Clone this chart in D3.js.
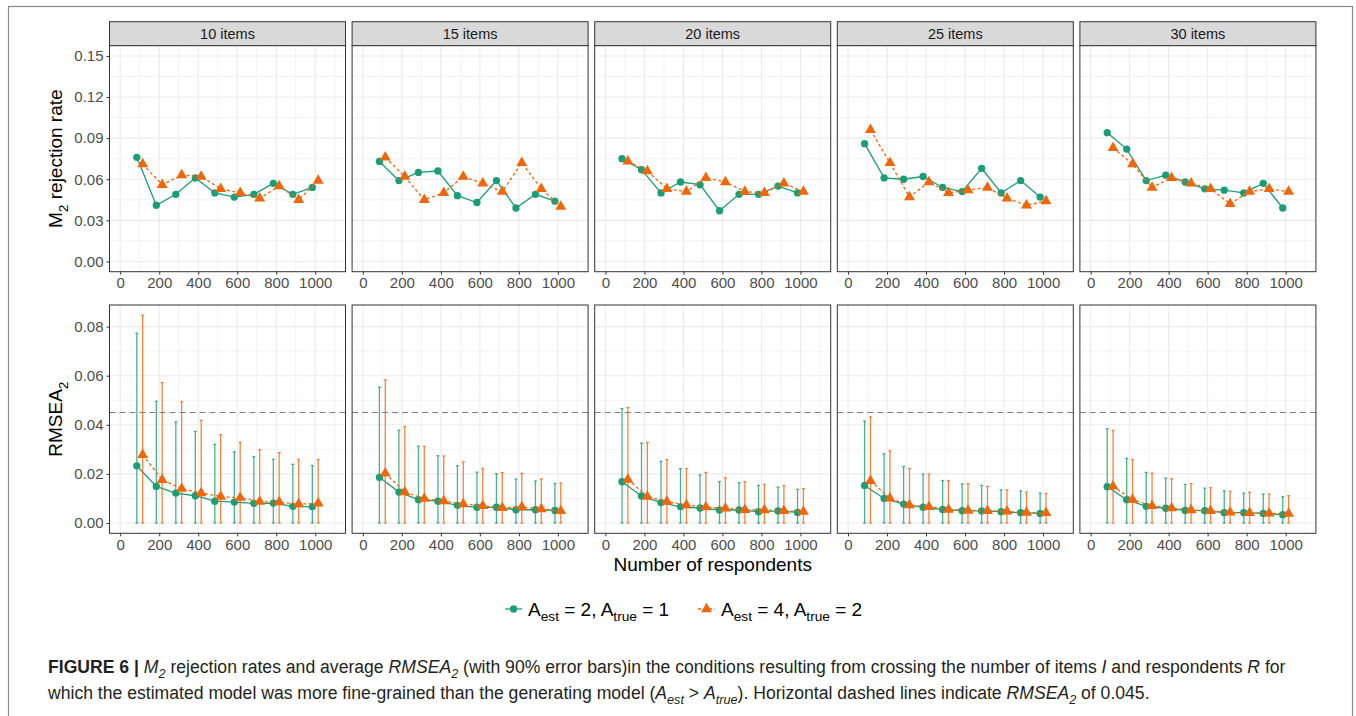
<!DOCTYPE html>
<html>
<head>
<meta charset="utf-8">
<script src="https://cdn.jsdelivr.net/npm/d3@7/dist/d3.min.js"></script>
<style>
body { margin: 0; background: #fff; }
text { font-family: "Liberation Sans", Arial, sans-serif; }
</style>
</head>
<body>
<script>
// ---- data ----
var respondents = [100, 200, 300, 400, 500, 600, 700, 800, 900, 1000];
var itemLabels = ["10 items", "15 items", "20 items", "25 items", "30 items"];

// M2 rejection rate, one row per panel
var rejGreen = [
  [0.076, 0.041, 0.049, 0.061, 0.050, 0.047, 0.049, 0.057, 0.049, 0.054],
  [0.073, 0.059, 0.065, 0.066, 0.048, 0.043, 0.059, 0.039, 0.049, 0.044],
  [0.075, 0.067, 0.050, 0.058, 0.056, 0.037, 0.049, 0.049, 0.055, 0.050],
  [0.086, 0.061, 0.060, 0.062, 0.054, 0.051, 0.068, 0.050, 0.059, 0.047],
  [0.094, 0.082, 0.059, 0.063, 0.058, 0.053, 0.052, 0.050, 0.057, 0.039]
];
var rejOrange = [
  [0.071, 0.056, 0.063, 0.062, 0.053, 0.050, 0.046, 0.055, 0.045, 0.059],
  [0.076, 0.062, 0.045, 0.050, 0.062, 0.057, 0.051, 0.072, 0.053, 0.040],
  [0.073, 0.066, 0.053, 0.051, 0.061, 0.058, 0.051, 0.050, 0.057, 0.051],
  [0.096, 0.072, 0.047, 0.058, 0.050, 0.052, 0.054, 0.046, 0.041, 0.044],
  [0.083, 0.071, 0.054, 0.061, 0.057, 0.053, 0.042, 0.051, 0.053, 0.051]
];

// average RMSEA2 and upper end of 90% interval (lower end is 0)
var rmseaGreen = [
  [0.0233, 0.0149, 0.0122, 0.0111, 0.0089, 0.0085, 0.0080, 0.0081, 0.0068, 0.0066],
  [0.0186, 0.0126, 0.0095, 0.0089, 0.0072, 0.0064, 0.0064, 0.0054, 0.0054, 0.0051],
  [0.0168, 0.0110, 0.0083, 0.0066, 0.0061, 0.0053, 0.0053, 0.0046, 0.0049, 0.0043],
  [0.0153, 0.0100, 0.0077, 0.0064, 0.0055, 0.0050, 0.0049, 0.0046, 0.0042, 0.0039],
  [0.0148, 0.0095, 0.0068, 0.0060, 0.0051, 0.0050, 0.0042, 0.0042, 0.0039, 0.0034]
];
var rmseaGreenHi = [
  [0.0773, 0.0496, 0.0412, 0.0373, 0.0320, 0.0290, 0.0270, 0.0259, 0.0239, 0.0234],
  [0.0553, 0.0378, 0.0313, 0.0274, 0.0233, 0.0207, 0.0201, 0.0179, 0.0171, 0.0161],
  [0.0466, 0.0325, 0.0251, 0.0221, 0.0196, 0.0169, 0.0164, 0.0153, 0.0146, 0.0137],
  [0.0415, 0.0282, 0.0230, 0.0199, 0.0173, 0.0159, 0.0153, 0.0135, 0.0131, 0.0122],
  [0.0384, 0.0263, 0.0206, 0.0183, 0.0157, 0.0142, 0.0131, 0.0122, 0.0118, 0.0107]
];
var rmseaOrange = [
  [0.0278, 0.0176, 0.0140, 0.0122, 0.0108, 0.0103, 0.0087, 0.0085, 0.0077, 0.0080],
  [0.0202, 0.0126, 0.0099, 0.0089, 0.0077, 0.0070, 0.0062, 0.0065, 0.0057, 0.0049],
  [0.0177, 0.0108, 0.0087, 0.0073, 0.0065, 0.0060, 0.0054, 0.0053, 0.0050, 0.0046],
  [0.0172, 0.0100, 0.0073, 0.0066, 0.0055, 0.0051, 0.0050, 0.0047, 0.0042, 0.0041],
  [0.0149, 0.0095, 0.0070, 0.0061, 0.0053, 0.0049, 0.0043, 0.0041, 0.0039, 0.0038]
];
var rmseaOrangeHi = [
  [0.0846, 0.0572, 0.0494, 0.0418, 0.0360, 0.0328, 0.0298, 0.0287, 0.0259, 0.0258],
  [0.0583, 0.0393, 0.0312, 0.0273, 0.0249, 0.0222, 0.0205, 0.0202, 0.0180, 0.0163],
  [0.0470, 0.0328, 0.0258, 0.0222, 0.0206, 0.0184, 0.0168, 0.0157, 0.0152, 0.0140],
  [0.0432, 0.0294, 0.0222, 0.0199, 0.0173, 0.0160, 0.0149, 0.0135, 0.0126, 0.0120],
  [0.0377, 0.0259, 0.0203, 0.0180, 0.0160, 0.0144, 0.0129, 0.0125, 0.0118, 0.0111]
];

var xTicks = [0, 200, 400, 600, 800, 1000];
var xMinor = [100, 300, 500, 700, 900, 1100];
var rejTicks = [0, 0.03, 0.06, 0.09, 0.12, 0.15];
var rejMinor = [0.015, 0.045, 0.075, 0.105, 0.135];
var rmseaTicks = [0, 0.02, 0.04, 0.06, 0.08];
var rmseaMinor = [0.01, 0.03, 0.05, 0.07];
var cutoff = 0.045;

var green = "#1b9e77", orange = "#f2660a";

// ---- layout ----
var W = 1356, H = 716;
var panelX0 = 109.5, panelW = 236, panelStep = 242.6;
var stripTop = 21.7, topY0 = 45.7, topY1 = 271.7;
var botY0 = 305, botY1 = 533.3;
var tickFont = "15px";

var svg = d3.select("body").append("svg")
    .attr("width", W)
    .attr("height", H);

svg.append("rect")
    .attr("x", 8.5).attr("y", 6.5)
    .attr("width", 1344).attr("height", 730)
    .attr("fill", "none")
    .attr("stroke", "#8a8a8a")
    .attr("stroke-width", 1.2);

var x = d3.scaleLinear().domain([-55, 1155]).range([0, panelW]);
var yTop = d3.scaleLinear().domain([-0.0075, 0.1575]).range([topY1 - topY0, 0]);
var yBot = d3.scaleLinear().domain([-0.0042, 0.0888]).range([botY1 - botY0, 0]);

var dodge = 15;

function rich(sel, parts, fs) {
  var shift = 0;
  parts.forEach(function(p) {
    var ts = sel.append("tspan").text(p.t);
    var target = p.sub ? fs * 0.3 : 0;
    if (target !== shift) { ts.attr("dy", target - shift); shift = target; }
    if (p.sub) ts.attr("font-size", fs * 0.72);
    if (p.it) ts.attr("font-style", "italic");
    if (p.b) ts.attr("font-weight", "bold");
  });
}

function drawPanel(g, y, h, yTicks, yMinor, showY) {
  g.append("rect").attr("width", panelW).attr("height", h).attr("fill", "#fff");
  var grid = g.append("g").attr("stroke", "#ebebeb");
  grid.selectAll(".xm").data(xMinor).join("line")
      .attr("x1", d => x(d)).attr("x2", d => x(d))
      .attr("y1", 0).attr("y2", h).attr("stroke-width", 0.6);
  grid.selectAll(".ym").data(yMinor).join("line")
      .attr("y1", d => y(d)).attr("y2", d => y(d))
      .attr("x1", 0).attr("x2", panelW).attr("stroke-width", 0.6);
  grid.selectAll(".xM").data(xTicks).join("line")
      .attr("x1", d => x(d)).attr("x2", d => x(d))
      .attr("y1", 0).attr("y2", h).attr("stroke-width", 1.1);
  grid.selectAll(".yM").data(yTicks).join("line")
      .attr("y1", d => y(d)).attr("y2", d => y(d))
      .attr("x1", 0).attr("x2", panelW).attr("stroke-width", 1.1);

  var xa = g.append("g").attr("transform", "translate(0," + h + ")")
      .call(d3.axisBottom(x).tickValues(xTicks).tickSize(3).tickPadding(3).tickFormat(d3.format("d")));
  xa.select(".domain").remove();
  xa.selectAll("line").attr("stroke", "#333");
  xa.selectAll("text").attr("fill", "#4d4d4d").style("font-size", tickFont)
      .style("font-family", "'Liberation Sans', Arial, sans-serif");

  if (showY) {
    var ya = g.append("g")
        .call(d3.axisLeft(y).tickValues(yTicks).tickSize(3).tickPadding(3).tickFormat(d3.format(".2f")));
    ya.select(".domain").remove();
    ya.selectAll("line").attr("stroke", "#333");
    ya.selectAll("text").attr("fill", "#4d4d4d").style("font-size", tickFont)
        .style("font-family", "'Liberation Sans', Arial, sans-serif");
  }
}

function drawSeries(g, y, vals, color, off, dashed, shape, hi) {
  var pts = respondents.map(function(r, i) { return [x(r + off), y(vals[i]), i]; });
  if (hi) {
    var eb = g.append("g").attr("stroke", color).attr("stroke-opacity", 0.8).attr("stroke-width", 1.3);
    eb.selectAll(".v").data(pts).join("line")
        .attr("x1", d => d[0]).attr("x2", d => d[0])
        .attr("y1", d => y(0)).attr("y2", d => y(hi[d[2]]));
    eb.selectAll(".c1").data(pts).join("line")
        .attr("x1", d => d[0] - 1.5).attr("x2", d => d[0] + 1.5)
        .attr("y1", d => y(hi[d[2]])).attr("y2", d => y(hi[d[2]]));
    eb.selectAll(".c0").data(pts).join("line")
        .attr("x1", d => d[0] - 1.5).attr("x2", d => d[0] + 1.5)
        .attr("y1", d => y(0)).attr("y2", d => y(0));
  }
  g.append("path").datum(pts)
      .attr("d", d3.line().x(d => d[0]).y(d => d[1]))
      .attr("fill", "none").attr("stroke", color).attr("stroke-width", 1.3)
      .attr("stroke-dasharray", dashed ? "3,2.5" : null);
  g.selectAll(null).data(pts).join("path")
      .attr("transform", d => "translate(" + d[0] + "," + d[1] + ")")
      .attr("d", d3.symbol(shape, shape === d3.symbolCircle ? 42 : 52))
      .attr("fill", color);
}

itemLabels.forEach(function(lab, p) {
  var px = panelX0 + p * panelStep;

  // strip
  svg.append("rect").attr("x", px).attr("y", stripTop)
      .attr("width", panelW).attr("height", topY0 - stripTop)
      .attr("fill", "#d9d9d9").attr("stroke", "#333").attr("stroke-width", 1);
  svg.append("text").attr("x", px + panelW / 2).attr("y", (stripTop + topY0) / 2)
      .attr("dy", "0.35em").attr("text-anchor", "middle")
      .attr("fill", "#1a1a1a").style("font-size", "14.5px").text(lab);

  // top: rejection rates
  var gt = svg.append("g").attr("transform", "translate(" + px + "," + topY0 + ")");
  drawPanel(gt, yTop, topY1 - topY0, rejTicks, rejMinor, p === 0);
  drawSeries(gt, yTop, rejGreen[p], green, -dodge, false, d3.symbolCircle, null);
  drawSeries(gt, yTop, rejOrange[p], orange, dodge, true, d3.symbolTriangle, null);
  gt.append("rect").attr("width", panelW).attr("height", topY1 - topY0)
      .attr("fill", "none").attr("stroke", "#333").attr("stroke-width", 1);

  // bottom: RMSEA2
  var gb = svg.append("g").attr("transform", "translate(" + px + "," + botY0 + ")");
  drawPanel(gb, yBot, botY1 - botY0, rmseaTicks, rmseaMinor, p === 0);
  gb.append("line").attr("x1", 0).attr("x2", panelW)
      .attr("y1", yBot(cutoff)).attr("y2", yBot(cutoff))
      .attr("stroke", "#7f7f7f").attr("stroke-width", 1.1).attr("stroke-dasharray", "6,4");
  drawSeries(gb, yBot, rmseaGreen[p], green, -dodge, false, d3.symbolCircle, rmseaGreenHi[p]);
  drawSeries(gb, yBot, rmseaOrange[p], orange, dodge, true, d3.symbolTriangle, rmseaOrangeHi[p]);
  gb.append("rect").attr("width", panelW).attr("height", botY1 - botY0)
      .attr("fill", "none").attr("stroke", "#333").attr("stroke-width", 1);
});

// axis titles
var t1 = svg.append("text").attr("transform", "translate(62," + ((topY0 + topY1) / 2) + ") rotate(-90)")
    .attr("text-anchor", "middle").attr("fill", "#000").style("font-size", "19px");
rich(t1, [{t: "M"}, {t: "2", sub: true}, {t: " rejection rate"}], 19);

var t2 = svg.append("text").attr("transform", "translate(62," + ((botY0 + botY1) / 2) + ") rotate(-90)")
    .attr("text-anchor", "middle").attr("fill", "#000").style("font-size", "19px");
rich(t2, [{t: "RMSEA"}, {t: "2", sub: true}], 19);

svg.append("text").attr("x", panelX0 + (4 * panelStep + panelW) / 2).attr("y", 571)
    .attr("text-anchor", "middle").attr("fill", "#000").style("font-size", "19px")
    .text("Number of respondents");

// legend
var legend = [
  {color: green, shape: d3.symbolCircle, dashed: false, x: 505, parts: [{t: "A"}, {t: "est", sub: true}, {t: " = 2, A"}, {t: "true", sub: true}, {t: " = 1"}]},
  {color: orange, shape: d3.symbolTriangle, dashed: true, x: 698, parts: [{t: "A"}, {t: "est", sub: true}, {t: " = 4, A"}, {t: "true", sub: true}, {t: " = 2"}]}
];
legend.forEach(function(l) {
  var lg = svg.append("g").attr("transform", "translate(" + l.x + ",609)");
  lg.append("line").attr("x1", 0).attr("x2", 17).attr("stroke", l.color).attr("stroke-width", 1.3)
      .attr("stroke-dasharray", l.dashed ? "3,2.5" : null);
  lg.append("path").attr("transform", "translate(8.5,0)")
      .attr("d", d3.symbol(l.shape, l.shape === d3.symbolCircle ? 42 : 52)).attr("fill", l.color);
  var tx = lg.append("text").attr("x", 23).attr("y", 6.5).attr("fill", "#000").style("font-size", "19px");
  rich(tx, l.parts, 19);
});

// caption
var capSize = 17.6;
var cap1 = svg.append("text").attr("x", 48).attr("y", 673).attr("fill", "#231f20").style("font-size", capSize + "px");
rich(cap1, [
  {t: "FIGURE 6 | ", b: true}, {t: "M", it: true}, {t: "2", it: true, sub: true},
  {t: " rejection rates and average "}, {t: "RMSEA", it: true}, {t: "2", it: true, sub: true},
  {t: " (with 90% error bars)in the conditions resulting from crossing the number of items "},
  {t: "I", it: true}, {t: " and respondents "}, {t: "R", it: true}, {t: " for"}
], capSize);
var cap2 = svg.append("text").attr("x", 48).attr("y", 699).attr("fill", "#231f20").style("font-size", capSize + "px");
rich(cap2, [
  {t: "which the estimated model was more fine-grained than the generating model ("},
  {t: "A", it: true}, {t: "est", it: true, sub: true}, {t: " > "},
  {t: "A", it: true}, {t: "true", it: true, sub: true},
  {t: "). Horizontal dashed lines indicate "}, {t: "RMSEA", it: true}, {t: "2", it: true, sub: true},
  {t: " of 0.045."}
], capSize);
</script>
</body>
</html>
